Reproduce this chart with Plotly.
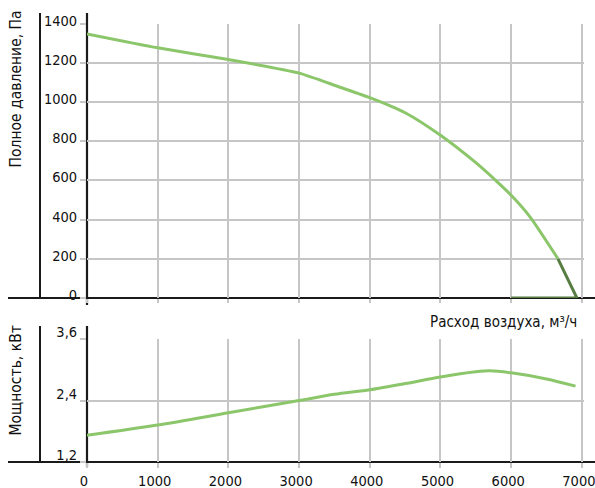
import plotly.graph_objects as go

# ---- data ----
flow_pressure = [0, 1000, 2000, 3000, 3578, 4000, 4500, 5000, 5500, 5795, 6000, 6266, 6662]
pressure_pa = [1347, 1276, 1216, 1147, 1075, 1022, 945, 830, 690, 595, 524, 414, 200]
flow_pressure_end = [6000, 6930, 6662]
pressure_end = [0, 0, 200]

flow_power = [0, 1000, 2000, 3000, 3500, 4000, 4500, 5000, 5500, 5700, 6000, 6500, 6910]
power_kw = [1.72, 1.92, 2.16, 2.40, 2.52, 2.61, 2.73, 2.86, 2.96, 2.98, 2.94, 2.82, 2.68]

x_ticks = [0, 1000, 2000, 3000, 4000, 5000, 6000, 7000]
p_ticks = [0, 200, 400, 600, 800, 1000, 1200, 1400]
w_ticks = [1.2, 2.4, 3.6]

# ---- layout helpers (pixel -> paper) ----
W, H = 595, 488
X_MAX = 7030
ML, MT, MB = 87, 10, 26
PW = round((582 - 87) * X_MAX / 7000)
MR = W - ML - PW
PH = H - MT - MB


def xp(px):
    return (px - ML) / PW


def yp(py):
    return (H - MB - py) / PH


FONT = "Liberation Sans Narrow, DejaVu Sans Condensed, Roboto, sans-serif"
GREEN = "#8cc66b"
DARK = "#587d43"
GRID = "#c6c6c6"

fig = go.Figure()
fig.add_trace(go.Scatter(x=flow_pressure, y=pressure_pa, mode="lines",
                         line=dict(color=GREEN, width=3, shape="spline", smoothing=0.6),
                         xaxis="x", yaxis="y", cliponaxis=False, showlegend=False))
fig.add_trace(go.Scatter(x=flow_pressure_end, y=pressure_end, mode="lines",
                         line=dict(color=DARK, width=3),
                         xaxis="x", yaxis="y", cliponaxis=False, showlegend=False))
fig.add_trace(go.Scatter(x=flow_power, y=power_kw, mode="lines",
                         line=dict(color=GREEN, width=3, shape="spline", smoothing=0.8),
                         xaxis="x2", yaxis="y2", cliponaxis=False, showlegend=False))

axis_common = dict(showline=False, zeroline=False, showgrid=True, gridcolor=GRID,
                   gridwidth=1.5, ticks="outside", tickcolor=GRID, tickwidth=1.5,
                   automargin=False,
                   tickfont=dict(family=FONT, size=14.5, color="#111"))

fig.update_layout(
    width=W, height=H,
    margin=dict(l=ML, r=MR, t=MT, b=MB, autoexpand=False),
    paper_bgcolor="white", plot_bgcolor="white",
    separators=", ",
    font=dict(family=FONT, color="#111"),
    xaxis=dict(axis_common, domain=[0, 1], range=[0, X_MAX], tickvals=x_ticks,
               showticklabels=False, ticklen=4, anchor="y"),
    yaxis=dict(axis_common, domain=[yp(298), yp(23.5)], range=[0, 1400], tickvals=p_ticks,
               ticklen=6, anchor="x", ticklabelshift=-3),
    xaxis2=dict(axis_common, domain=[0, 1], range=[0, X_MAX], tickvals=x_ticks,
                ticklen=5, anchor="y2", ticklabelstandoff=1, ticklabelshift=-3,
                ticklabeloverflow="allow"),
    yaxis2=dict(axis_common, domain=[0, yp(339)], range=[1.2, 3.6], tickvals=w_ticks,
                tickformat=".1f", ticklen=6, anchor="x2", ticklabelshift=-7),
)

line_shapes = [
    # top panel
    dict(x0=xp(87), x1=xp(87), y0=yp(305), y1=yp(13), w=2.2),
    dict(x0=xp(40), x1=xp(40), y0=yp(298), y1=yp(13), w=2),
    dict(x0=xp(8), x1=xp(595), y0=yp(298), y1=yp(298), w=2),
    # bottom panel
    dict(x0=xp(87), x1=xp(87), y0=yp(467), y1=yp(326), w=2.2),
    dict(x0=xp(40), x1=xp(40), y0=yp(462), y1=yp(326), w=2),
    dict(x0=xp(8), x1=xp(595), y0=yp(462), y1=yp(462), w=2),
]
for s in line_shapes:
    fig.add_shape(type="line", xref="paper", yref="paper",
                  x0=s["x0"], x1=s["x1"], y0=s["y0"], y1=s["y1"],
                  line=dict(color="#1a1a1a", width=s["w"]), layer="between")

fig.add_annotation(text="Полное давление, Па", xref="paper", yref="paper",
                   x=xp(15.5), y=yp(89), textangle=-90, showarrow=False,
                   xanchor="center", yanchor="middle",
                   font=dict(family=FONT, size=15.5, color="#111"))
fig.add_annotation(text="Мощность, кВт", xref="paper", yref="paper",
                   x=xp(15.5), y=yp(381), textangle=-90, showarrow=False,
                   xanchor="center", yanchor="middle",
                   font=dict(family=FONT, size=15.5, color="#111"))
fig.add_annotation(text="Расход воздуха, м³/ч", xref="paper", yref="paper",
                   x=xp(579), y=yp(322), showarrow=False,
                   xanchor="right", yanchor="middle",
                   font=dict(family=FONT, size=15, color="#111"))

fig.write_html("out.html", config={"displayModeBar": False},
               post_script="document.body.style.margin='0';document.body.style.padding='0';")
